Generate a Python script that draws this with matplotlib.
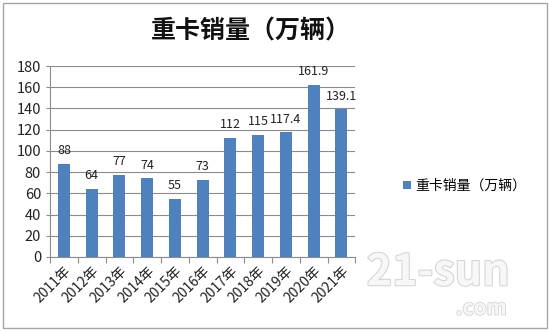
import matplotlib.pyplot as plt
import matplotlib.patheffects as pe
import numpy as np

plt.rcParams['font.family'] = ['Noto Sans CJK SC', 'DejaVu Sans']

years = ["2011年", "2012年", "2013年", "2014年", "2015年", "2016年",
         "2017年", "2018年", "2019年", "2020年", "2021年"]
sales = [88, 64, 77, 74, 55, 73, 112, 115, 117.4, 161.9, 139.1]
value_labels = ["88", "64", "77", "74", "55", "73", "112", "115", "117.4", "161.9", "139.1"]
series_name = "重卡销量（万辆）"

bar_color = "#4F81BD"
grid_color = "#8C8C8C"

fig = plt.figure(figsize=(5.5, 3.32), dpi=100)
fig.patch.set_facecolor("white")

# outer chart border
fig.add_artist(plt.Rectangle((0.006, 0.012), 0.988, 0.979, transform=fig.transFigure,
                             fill=False, edgecolor="#A6A6A6", linewidth=1.0))

ax = fig.add_axes([0.091, 0.226, 0.555, 0.575])
x = np.arange(len(years))
bars = ax.bar(x, sales, width=0.43, color=bar_color, label=series_name, zorder=3)

for xi, v, lab in zip(x, sales, value_labels):
    ax.annotate(lab, (xi, v), xytext=(0, 5), textcoords="offset points",
                ha="center", va="bottom", fontsize=9, color="#222222")

ax.set_xlim(-0.5, len(years) - 0.5)
ax.set_ylim(0, 180)
ax.set_yticks(range(0, 181, 20))
ax.yaxis.grid(True, color=grid_color, linewidth=0.8, zorder=0)
ax.tick_params(axis="y", labelsize=10.5, length=3, color=grid_color, labelcolor="#222222")

# category boundaries as tick marks, labels at centres
ax.set_xticks(np.arange(-0.5, len(years), 1.0))
ax.set_xticklabels([])
ax.set_xticks(x, minor=True)
ax.set_xticklabels(years, minor=True, rotation=45, ha="right", rotation_mode="anchor",
                   fontsize=10, color="#222222")
ax.tick_params(axis="x", which="major", length=4, color=grid_color)
ax.tick_params(axis="x", which="minor", length=0, pad=5)

for side in ["top", "right"]:
    ax.spines[side].set_visible(False)
ax.spines["left"].set_color(grid_color)
ax.spines["bottom"].set_color(grid_color)

fig.text(0.457, 0.905, series_name, ha="center", va="center", fontsize=18,
         fontweight="bold", color="#111111")

ax.legend(loc="center left", bbox_to_anchor=(0.71, 0.44), bbox_transform=fig.transFigure,
          frameon=False, fontsize=10, handlelength=0.6, handleheight=0.6, handletextpad=0.3)

# faint site watermark
fig.text(0.797, 0.18, "21-sun", ha="center", va="center", fontsize=31, fontweight="bold",
         color="#F7F7F7", path_effects=[pe.withStroke(linewidth=1.5, foreground="#D4D4D4")])
fig.text(0.875, 0.072, ".com", ha="center", va="center", fontsize=15, style="italic",
         fontweight="bold", color="#F7F7F7",
         path_effects=[pe.withStroke(linewidth=1.2, foreground="#D4D4D4")])

fig.savefig("out.png", dpi=100)
